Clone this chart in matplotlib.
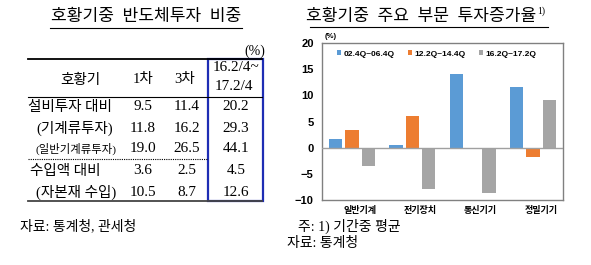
import matplotlib.pyplot as plt
import matplotlib.transforms as mtransforms
from matplotlib.lines import Line2D
from matplotlib.patches import Rectangle

plt.rcParams['font.family'] = ['Liberation Serif', 'Noto Sans CJK KR']

# 왼쪽 표 데이터
row_labels = ['설비투자 대비', '(기계류투자)', '(일반기계류투자)', '수입액 대비', '(자본재 수입)']
col_first = [9.5, 11.8, 19.0, 3.6, 10.5]
col_third = [11.4, 16.2, 26.5, 2.5, 8.7]
col_now = [20.2, 29.3, 44.1, 4.5, 12.6]

# 오른쪽 막대 데이터
sectors = ['일반기계', '전기장치', '통신기기', '정밀기기']
series_names = ['02.4Q~06.4Q', '12.2Q~14.4Q', '16.2Q~17.2Q']
s1 = [1.6, 0.6, 14.0, 11.5]
s2 = [3.3, 6.0, 0.0, -1.7]
s3 = [-3.5, -7.9, -8.7, 9.1]
colors = ['#5B9BD5', '#ED7D31', '#A5A5A5']

W, H = 591, 265
fig = plt.figure(figsize=(W / 100, H / 100), dpi=100)

def fx(px):
    return px / W

def fy(py):
    return 1 - py / H

def hline(x0, x1, y, **kw):
    fig.add_artist(Line2D([fx(x0), fx(x1)], [fy(y), fy(y)], transform=fig.transFigure, **kw))

# ---- 왼쪽: 표 ----
fig.text(fx(146), fy(17), '호황기중  반도체투자  비중', ha='center', va='center', fontsize=12.3)
hline(50, 242, 28, color='black', lw=0.8)
fig.text(fx(255), fy(51), '(%)', ha='center', va='center', fontsize=10)

hline(28, 262, 59, color='black', lw=1.3)
hline(28, 262, 97, color='black', lw=0.8)
hline(28, 208, 159, color='black', lw=0.8, ls=(0, (1, 1)))
hline(28, 262, 201, color='#444444', lw=1.3)

fig.text(fx(80), fy(80), '호황기', ha='center', va='center', fontsize=10.5)
fig.text(fx(143), fy(80), '1차', ha='center', va='center', fontsize=10.5)
fig.text(fx(185), fy(80), '3차', ha='center', va='center', fontsize=10.5)
fig.text(fx(236), fy(68), '16.2/4~', ha='center', va='center', fontsize=11)
fig.text(fx(234), fy(87), '17.2/4', ha='center', va='center', fontsize=11)

row_y = [107, 128, 149, 171, 192]
label_x = [28, 36, 35, 30, 36]
for i in range(len(row_labels)):
    fs = 8.2 if len(row_labels[i]) > 8 else 10.5
    fig.text(fx(label_x[i]), fy(row_y[i]), row_labels[i], ha='left', va='center', fontsize=fs)
    fig.text(fx(143), fy(row_y[i]), '%.1f' % col_first[i], ha='center', va='center', fontsize=11)
    fig.text(fx(187), fy(row_y[i]), '%.1f' % col_third[i], ha='center', va='center', fontsize=11)
    fig.text(fx(236), fy(row_y[i]), '%.1f' % col_now[i], ha='center', va='center', fontsize=11)

fig.add_artist(Rectangle((fx(208), fy(201)), fx(263) - fx(208), fy(59) - fy(201),
                         transform=fig.transFigure, fill=False, ec='#1E2DB4', lw=1.6))

fig.text(fx(20), fy(226), '자료: 통계청, 관세청', ha='left', va='center', fontsize=10)

# ---- 오른쪽: 막대그래프 ----
fig.text(fx(536), fy(17), '호황기중  주요  부문  투자증가율', ha='right', va='center', fontsize=12.3)
fig.text(fx(537), fy(11), '1)', ha='left', va='center', fontsize=7)
hline(310, 548, 27, color='black', lw=0.8)

ax = fig.add_axes([fx(322), fy(200), fx(563) - fx(322), fy(43) - fy(200)])
x = list(range(len(sectors)))
w = 0.22
off = 0.27
all_series = [s1, s2, s3]
for k in range(3):
    ax.bar([i + (k - 1) * off for i in x], all_series[k], width=w, color=colors[k],
           label=series_names[k], zorder=2)
ax.axhline(0, color='#A0A0A0', lw=1, zorder=3)
ax.set_xlim(-0.5, 3.5)
ax.set_ylim(-10, 20)
ax.set_yticks([-10, -5, 0, 5, 10, 15, 20])
ax.set_xticks(x)
ax.set_xticklabels(sectors, fontsize=6.5, fontweight='bold', family=['Noto Sans CJK KR'])
ax.tick_params(axis='x', length=0, pad=4)
ax.tick_params(axis='y', length=0, pad=6, labelsize=8)
for lab in ax.get_yticklabels():
    lab.set_fontweight('bold')
    lab.set_family(['Liberation Sans'])
shift = mtransforms.ScaledTranslation(8 / 100, 0, fig.dpi_scale_trans)
for lab in ax.get_xticklabels():
    lab.set_transform(lab.get_transform() + shift)
for sp in ax.spines.values():
    sp.set_color('#808080')
    sp.set_linewidth(1)

leg = ax.legend(loc='upper left', bbox_to_anchor=(0.03, 1.0), ncol=3, frameon=False,
                handlelength=0.5, handleheight=0.5, handletextpad=0.3, columnspacing=1.6,
                prop={'family': 'Liberation Sans', 'weight': 'bold', 'size': 6})

fig.text(fx(325), fy(36), '(%)', ha='left', va='center', fontsize=5.5, fontweight='bold',
         family=['Liberation Sans'])

fig.text(fx(298), fy(226), '주: 1) 기간중 평균', ha='left', va='center', fontsize=10)
fig.text(fx(287), fy(243), '자료: 통계청', ha='left', va='center', fontsize=10)

fig.savefig('out.png', dpi=100)
